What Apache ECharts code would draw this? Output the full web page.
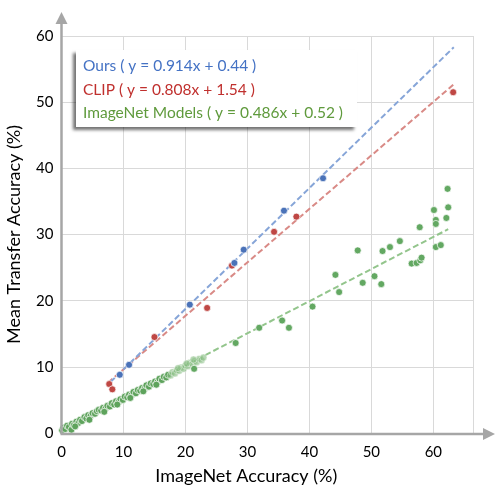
<!DOCTYPE html>
<html>
<head>
<meta charset="utf-8">
<script src="https://cdn.jsdelivr.net/npm/echarts@6/dist/echarts.min.js"></script>
<style>
html,body{margin:0;padding:0;background:#fff;}
#main{width:495px;height:485px;}
</style>
</head>
<body>
<div id="main"></div>
<script>
// ---- data ----
const xTickLabels = ['0','10','20','30','40','50','60'];
const yTickLabels = ['0','10','20','30','40','50','60'];

const oursPoints = [[9.4,8.8],[10.9,10.3],[20.7,19.4],[27.9,25.7],[29.4,27.7],[35.9,33.6],[42.2,38.5]];
const clipPoints = [[7.7,7.4],[8.2,6.6],[15.0,14.5],[23.5,18.9],[27.5,25.3],[34.3,30.4],[37.9,32.7],[63.2,51.5]];
const imagenetPoints = [
  [21.4,9.7],[28.1,13.6],[31.9,15.9],[35.6,17.0],[36.7,15.9],[40.5,19.1],[44.2,23.9],[44.8,21.3],
  [47.8,27.6],[48.6,22.7],[50.5,23.7],[51.6,22.5],[51.8,27.5],[53.0,28.1],[54.6,29.0],[56.5,25.6],
  [57.3,25.7],[57.9,26.1],[58.1,26.5],[57.8,31.1],[60.1,33.7],[60.4,32.2],[60.4,31.6],[60.4,28.1],
  [61.2,28.4],[62.1,32.5],[62.4,34.1],[62.3,36.9]
];
const imagenetDense = [
  [0.1,0.4],[0.3,0.8],[0.6,0.6],[0.9,1.1],[1.2,0.9],[1.6,0.5],[1.7,1.4],[2.0,1.2],[2.4,1.7],[2.7,1.5],
  [3.0,2.0],[3.3,1.8],[3.7,2.4],[4.0,2.2],[4.3,2.7],[4.7,2.6],[5.0,3.0],[5.4,2.9],[5.7,3.3],[6.0,3.5],
  [6.4,3.4],[6.7,3.8],[7.1,3.7],[7.4,4.1],[7.8,4.0],[8.1,4.5],[8.5,4.3],[8.8,4.8],[9.2,4.7],[9.5,5.1],
  [9.9,5.0],[10.2,5.5],[10.6,5.4],[10.9,5.8],[11.3,5.7],[11.6,6.2],[12.0,6.0],[12.3,6.5],[12.7,6.4],
  [13.0,6.8],[13.4,6.7],[13.7,7.2],[14.1,7.0],[14.4,7.5],[14.8,7.4],[15.1,7.8],[15.5,7.7],[15.8,8.2],
  [16.2,8.0],[16.5,8.5],[16.9,8.4],[17.2,8.8],
  [2.2,1.0],[4.5,2.0],[6.9,3.2],[9.0,4.3],[11.1,5.3],[13.2,6.3],[15.3,7.3]
];
const imagenetDenseLight = [
  [17.6,8.7],[17.9,9.2],[18.3,9.0],[18.6,9.5],[19.0,9.4],[19.3,9.9],[19.7,9.7],[20.0,10.2],[20.4,10.1],
  [20.7,10.6],[21.1,10.4],[21.5,10.9],[21.8,10.7],[22.2,11.2],[22.6,11.0],[22.9,11.4],
  [18.8,9.8],[20.2,10.5],[21.3,11.1]
];

const oursTrend = [[7.9,7.7],[63.3,58.3]];
const clipTrend = [[7.5,7.6],[63.3,52.7]];
const imagenetTrend = [[0,0.5],[62.4,30.8]];

const legendLines = [
  {text:'Ours ( y = 0.914x + 0.44 )', color:'#4472c4'},
  {text:'CLIP ( y = 0.808x + 1.54 )', color:'#c0302e'},
  {text:'ImageNet Models ( y = 0.486x + 0.52 )', color:'#5f9a3c'}
];

const FONT = 'Lato';
const X_MAX = 66.4;

const chart = echarts.init(document.getElementById('main'), null, {renderer:'canvas'});

function trend(data, color){
  return {type:'line', data:data, symbol:'none', silent:true, z:2,
    lineStyle:{color:color, width:2, type:[6,3]}};
}
function scatter(data, color, size, opacity, z){
  return {type:'scatter', data:data, symbolSize:size, z:z||3,
    itemStyle:{color:color, opacity:opacity==null?1:opacity, borderColor:'#ffffff', borderWidth:0.7}};
}

chart.setOption({
  animation:false,
  backgroundColor:'#ffffff',
  grid:{left:61.5, right:22, top:36, bottom:52, containLabel:false, outerBoundsMode:'none'},
  xAxis:{
    type:'value', min:0, max:X_MAX, interval:10,
    axisLine:{show:false}, axisTick:{show:false},
    splitLine:{show:true, lineStyle:{color:'#d9d9d9', width:1}},
    axisLabel:{showMaxLabel:false, color:'#000', fontFamily:FONT, fontSize:15, margin:12,
      formatter:function(v){ const i = Math.round(v/10); return xTickLabels[i] !== undefined && Math.abs(v-i*10)<1e-6 ? xTickLabels[i] : ''; }},
    name:'ImageNet Accuracy (%)', nameLocation:'middle', nameGap:34,
    nameTextStyle:{color:'#000', fontFamily:FONT, fontSize:18, padding:[0,42,0,0]}
  },
  yAxis:{
    type:'value', min:0, max:60, interval:10,
    axisLine:{show:false}, axisTick:{show:false},
    splitLine:{show:true, lineStyle:{color:'#d9d9d9', width:1}},
    axisLabel:{color:'#000', fontFamily:FONT, fontSize:15, margin:8,
      formatter:function(v){ const i = Math.round(v/10); return yTickLabels[i]; }},
    name:'Mean Transfer Accuracy (%)', nameLocation:'middle', nameGap:38,
    nameTextStyle:{color:'#000', fontFamily:FONT, fontSize:18}
  },
  series:[
    trend(imagenetTrend, '#93c58c'),
    trend(clipTrend, '#d98a86'),
    trend(oursTrend, '#86a5d8'),
    scatter(imagenetDense, '#5ea35c', 7, 1, 3),
    scatter(imagenetDenseLight, '#86bd80', 7, 0.6, 3),
    scatter(imagenetPoints, '#63a862', 7, 1, 4),
    scatter(clipPoints, '#bf4744', 7, 1, 5),
    scatter(oursPoints, '#4a72b8', 7, 1, 6)
  ]
});

// axis lines with arrows, and the equation box
const pO = chart.convertToPixel({gridIndex:0}, [0,0]);
const pTop = chart.convertToPixel({gridIndex:0}, [0,60]);
const pRight = chart.convertToPixel({gridIndex:0}, [X_MAX,0]);
const axColor = '#a6a6a6';
const yTip = pTop[1] - 24, xTip = pRight[0] + 22;
const boxX = 76, boxY = 50, boxW = 281, boxH = 77;
chart.setOption({
  graphic:[
    {type:'line', shape:{x1:pO[0], y1:pO[1]+1, x2:pO[0], y2:yTip+10}, style:{stroke:axColor, lineWidth:2.5}, z:10},
    {type:'polygon', shape:{points:[[pO[0],yTip],[pO[0]-6,yTip+12],[pO[0]+6,yTip+12]]}, style:{fill:axColor}, z:10},
    {type:'line', shape:{x1:pO[0]-1, y1:pO[1]+1, x2:xTip-10, y2:pO[1]+1}, style:{stroke:axColor, lineWidth:2.5}, z:10},
    {type:'polygon', shape:{points:[[xTip,pO[1]+1],[xTip-12,pO[1]-5],[xTip-12,pO[1]+7]]}, style:{fill:axColor}, z:10},
    {type:'rect', shape:{x:boxX, y:boxY, width:boxW, height:boxH},
      style:{fill:'#ffffff', shadowColor:'rgba(0,0,0,0.55)', shadowBlur:3, shadowOffsetX:-3, shadowOffsetY:3}, z:20},
    {type:'text', x:83, y:66, z:21, style:{text:legendLines[0].text, fill:legendLines[0].color, font:'15.5px '+FONT, verticalAlign:'middle'}},
    {type:'text', x:83, y:90, z:21, style:{text:legendLines[1].text, fill:legendLines[1].color, font:'15.5px '+FONT, verticalAlign:'middle'}},
    {type:'text', x:83, y:113, z:21, style:{text:legendLines[2].text, fill:legendLines[2].color, font:'15.5px '+FONT, verticalAlign:'middle'}}
  ]
});
</script>
</body>
</html>
